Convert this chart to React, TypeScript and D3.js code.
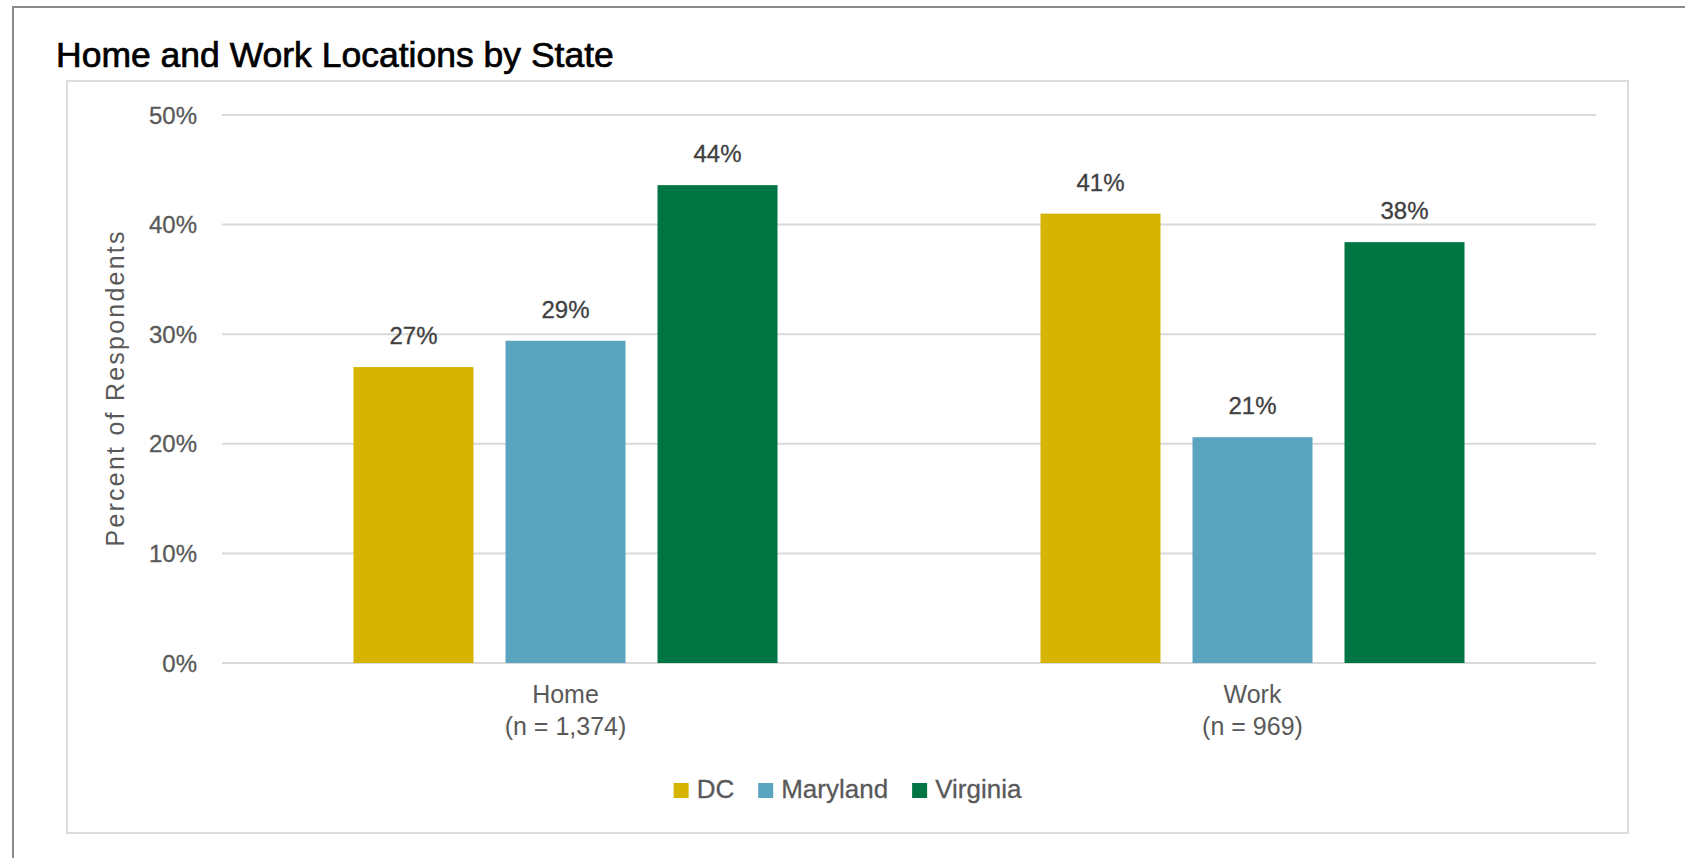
import { useEffect, useRef } from 'react';
import * as d3 from 'd3';

const categories = ['Home', 'Work'];
const categoryNotes = ['(n = 1,374)', '(n = 969)'];
const seriesNames = ['DC', 'Maryland', 'Virginia'];
const seriesColors = ['#d5b500', '#5ba4bf', '#007544'];
const dcValues = [27.0, 41.0];
const marylandValues = [29.4, 20.6];
const virginiaValues = [43.6, 38.4];
const yTicks = [0, 10, 20, 30, 40, 50];

const W = 1685;
const H = 858;
const FONT = '"Liberation Sans", Arial, sans-serif';

export default function App() {
  const svgRef = useRef<SVGSVGElement>(null);

  useEffect(() => {
    document.body.style.margin = '0';
    if (!svgRef.current) return;
    const svg = d3.select(svgRef.current);
    svg.selectAll('*').remove();

    const seriesValues = [dcValues, marylandValues, virginiaValues];

    // frame and chart box
    svg.append('rect')
      .attr('x', 13).attr('y', 7).attr('width', W).attr('height', H)
      .attr('fill', '#fff').attr('stroke', '#8a8a8a').attr('stroke-width', 2);
    svg.append('rect')
      .attr('x', 67).attr('y', 81).attr('width', 1561).attr('height', 752)
      .attr('fill', '#fff').attr('stroke', '#dcdcdc').attr('stroke-width', 2);

    svg.append('text')
      .attr('x', 56).attr('y', 67)
      .attr('font-family', FONT).attr('font-size', 35.5)
      .attr('fill', '#000')
      .attr('stroke', '#000').attr('stroke-width', 0.7)
      .text('Home and Work Locations by State');

    const left = 222, right = 1596, top = 115, bottom = 663;

    const y = d3.scaleLinear().domain([0, 50]).range([bottom, top]);
    const x0 = d3.scaleBand<string>().domain(categories).range([left, right]).padding(0);
    const x1 = d3.scaleBand<string>().domain(seriesNames)
      .range([0, x0.bandwidth()])
      .paddingInner(0.2105)
      .paddingOuter(0.865);
    const color = d3.scaleOrdinal<string, string>().domain(seriesNames).range(seriesColors);
    const fmt = d3.format('.0f');

    // gridlines
    const grid = svg.append('g');
    grid.selectAll('line')
      .data(yTicks)
      .join('line')
      .attr('x1', left).attr('x2', right)
      .attr('y1', d => y(d)).attr('y2', d => y(d))
      .attr('stroke', '#d9d9d9').attr('stroke-width', 2);

    grid.selectAll('text')
      .data(yTicks)
      .join('text')
      .attr('x', 197)
      .attr('y', d => y(d))
      .attr('dy', '0.36em')
      .attr('text-anchor', 'end')
      .attr('font-family', FONT).attr('font-size', 24)
      .attr('fill', '#595959')
      .attr('stroke', '#595959').attr('stroke-width', 0.3)
      .text(d => d + '%');

    // y axis title
    svg.append('text')
      .attr('transform', 'translate(124,' + ((top + bottom) / 2) + ') rotate(-90)')
      .attr('text-anchor', 'middle')
      .attr('font-family', FONT).attr('font-size', 25)
      .attr('fill', '#595959')
      .attr('textLength', 315).attr('lengthAdjust', 'spacing')
      .text('Percent of Respondents');

    // bars
    const groups = svg.append('g').selectAll('g')
      .data(categories)
      .join('g')
      .attr('transform', d => 'translate(' + x0(d) + ',0)');

    const cells = groups.selectAll('g')
      .data((_, ci) => seriesNames.map((s, si) => ({ s, v: seriesValues[si][ci] })))
      .join('g');

    cells.append('rect')
      .attr('x', d => x1(d.s)!)
      .attr('y', d => y(d.v))
      .attr('width', x1.bandwidth())
      .attr('height', d => bottom - y(d.v))
      .attr('fill', d => color(d.s));

    cells.append('text')
      .attr('x', d => x1(d.s)! + x1.bandwidth() / 2)
      .attr('y', d => y(d.v) - 23)
      .attr('text-anchor', 'middle')
      .attr('font-family', FONT).attr('font-size', 24)
      .attr('fill', '#404040')
      .attr('stroke', '#404040').attr('stroke-width', 0.3)
      .text(d => fmt(d.v) + '%');

    // category labels
    const catLabels = svg.append('g').selectAll('text')
      .data(categories)
      .join('text')
      .attr('text-anchor', 'middle')
      .attr('font-family', FONT).attr('font-size', 25)
      .attr('fill', '#595959');
    catLabels.append('tspan')
      .attr('x', d => x0(d)! + x0.bandwidth() / 2)
      .attr('y', 703)
      .text(d => d);
    catLabels.append('tspan')
      .attr('x', d => x0(d)! + x0.bandwidth() / 2)
      .attr('y', 735)
      .text((_, i) => categoryNotes[i]);

    // legend, centred on the chart box
    const legend = svg.append('g');
    const items = legend.selectAll('g')
      .data(seriesNames)
      .join('g');
    items.append('rect')
      .attr('width', 15).attr('height', 15)
      .attr('y', 783)
      .attr('fill', d => color(d));
    items.append('text')
      .attr('x', 23)
      .attr('y', 798)
      .attr('font-family', FONT).attr('font-size', 26)
      .attr('fill', '#595959')
      .attr('stroke', '#595959').attr('stroke-width', 0.3)
      .text(d => d);

    const widths: number[] = [];
    items.select<SVGTextElement>('text').each(function () {
      widths.push(23 + this.getComputedTextLength());
    });
    const gap = 24;
    const total = d3.sum(widths) + gap * (widths.length - 1);
    let cx = 847.5 - total / 2;
    items.attr('transform', (_, i) => {
      const t = 'translate(' + cx + ',0)';
      cx += widths[i] + gap;
      return t;
    });
  }, []);

  return (
    <svg
      ref={svgRef}
      width={W}
      height={H}
      style={{ position: 'absolute', left: 0, top: 0, display: 'block' }}
    />
  );
}
